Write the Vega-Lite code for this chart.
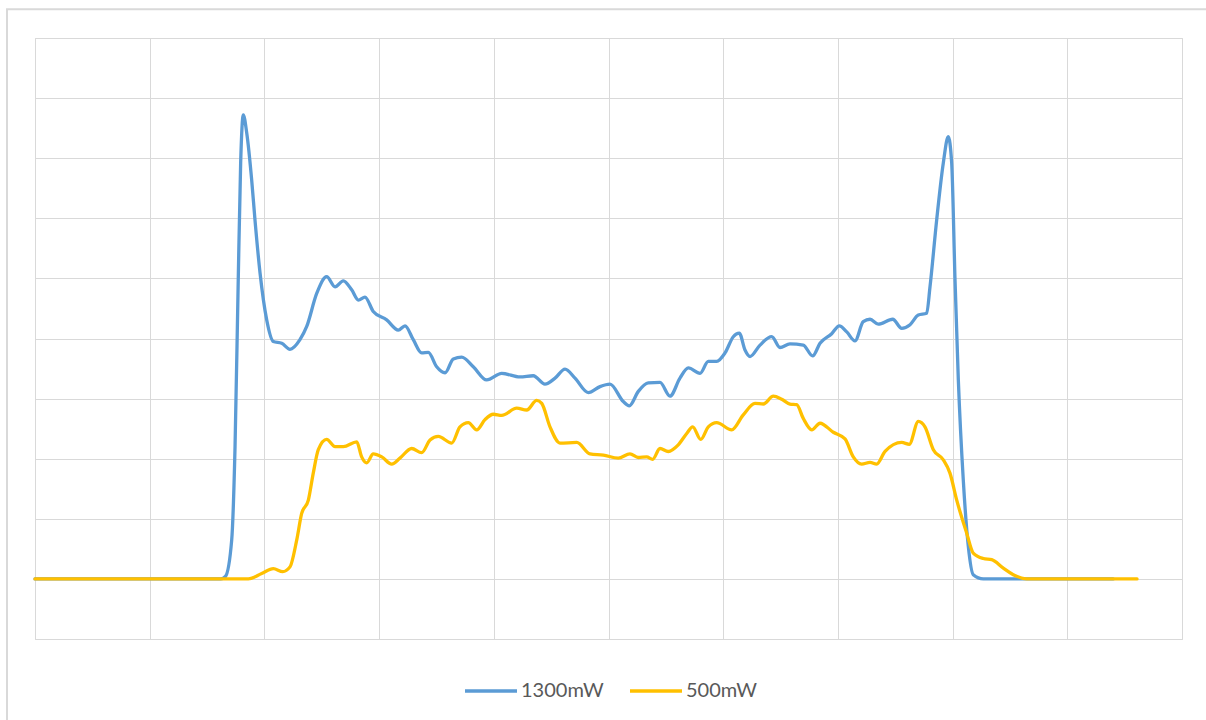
{
  "$schema": "https://vega.github.io/schema/vega-lite/v6.json",
  "width": 1147,
  "height": 601,
  "autosize": "none",
  "padding": {"left": 35, "top": 38, "right": 24, "bottom": 81},
  "background": "white",
  "config": {
    "view": {"stroke": "#D9D9D9", "strokeWidth": 1},
    "font": "Lato"
  },
  "datasets": {
    "profile": [
      {"series": "1300mW", "x": 0, "y": 0},
      {"series": "1300mW", "x": 0.83, "y": 0},
      {"series": "1300mW", "x": 1.62, "y": 0},
      {"series": "1300mW", "x": 1.66, "y": 0.04},
      {"series": "1300mW", "x": 1.715, "y": 0.65},
      {"series": "1300mW", "x": 1.744, "y": 2.2},
      {"series": "1300mW", "x": 1.772, "y": 4.98},
      {"series": "1300mW", "x": 1.793, "y": 6.92},
      {"series": "1300mW", "x": 1.816, "y": 7.72},
      {"series": "1300mW", "x": 1.846, "y": 7.42},
      {"series": "1300mW", "x": 1.889, "y": 6.64},
      {"series": "1300mW", "x": 1.918, "y": 5.97},
      {"series": "1300mW", "x": 1.962, "y": 5.09},
      {"series": "1300mW", "x": 2.02, "y": 4.31},
      {"series": "1300mW", "x": 2.078, "y": 3.95},
      {"series": "1300mW", "x": 2.151, "y": 3.92},
      {"series": "1300mW", "x": 2.223, "y": 3.82},
      {"series": "1300mW", "x": 2.31, "y": 3.98},
      {"series": "1300mW", "x": 2.369, "y": 4.2},
      {"series": "1300mW", "x": 2.456, "y": 4.75},
      {"series": "1300mW", "x": 2.543, "y": 5.03},
      {"series": "1300mW", "x": 2.616, "y": 4.86},
      {"series": "1300mW", "x": 2.688, "y": 4.96},
      {"series": "1300mW", "x": 2.761, "y": 4.81},
      {"series": "1300mW", "x": 2.819, "y": 4.64},
      {"series": "1300mW", "x": 2.877, "y": 4.69},
      {"series": "1300mW", "x": 2.949, "y": 4.45},
      {"series": "1300mW", "x": 3.066, "y": 4.31},
      {"series": "1300mW", "x": 3.167, "y": 4.14},
      {"series": "1300mW", "x": 3.226, "y": 4.21},
      {"series": "1300mW", "x": 3.298, "y": 3.98},
      {"series": "1300mW", "x": 3.371, "y": 3.76},
      {"series": "1300mW", "x": 3.429, "y": 3.77},
      {"series": "1300mW", "x": 3.502, "y": 3.53},
      {"series": "1300mW", "x": 3.575, "y": 3.43},
      {"series": "1300mW", "x": 3.647, "y": 3.66},
      {"series": "1300mW", "x": 3.72, "y": 3.69},
      {"series": "1300mW", "x": 3.821, "y": 3.53},
      {"series": "1300mW", "x": 3.938, "y": 3.31},
      {"series": "1300mW", "x": 4.069, "y": 3.42},
      {"series": "1300mW", "x": 4.228, "y": 3.36},
      {"series": "1300mW", "x": 4.344, "y": 3.38},
      {"series": "1300mW", "x": 4.446, "y": 3.24},
      {"series": "1300mW", "x": 4.534, "y": 3.34},
      {"series": "1300mW", "x": 4.621, "y": 3.49},
      {"series": "1300mW", "x": 4.708, "y": 3.34},
      {"series": "1300mW", "x": 4.824, "y": 3.1},
      {"series": "1300mW", "x": 4.926, "y": 3.2},
      {"series": "1300mW", "x": 5.013, "y": 3.24},
      {"series": "1300mW", "x": 5.129, "y": 2.95},
      {"series": "1300mW", "x": 5.181, "y": 2.88},
      {"series": "1300mW", "x": 5.26, "y": 3.12},
      {"series": "1300mW", "x": 5.347, "y": 3.26},
      {"series": "1300mW", "x": 5.449, "y": 3.27},
      {"series": "1300mW", "x": 5.536, "y": 3.04},
      {"series": "1300mW", "x": 5.623, "y": 3.34},
      {"series": "1300mW", "x": 5.696, "y": 3.51},
      {"series": "1300mW", "x": 5.798, "y": 3.42},
      {"series": "1300mW", "x": 5.87, "y": 3.62},
      {"series": "1300mW", "x": 5.943, "y": 3.62},
      {"series": "1300mW", "x": 6.016, "y": 3.76},
      {"series": "1300mW", "x": 6.088, "y": 4.03},
      {"series": "1300mW", "x": 6.14, "y": 4.09},
      {"series": "1300mW", "x": 6.19, "y": 3.81},
      {"series": "1300mW", "x": 6.234, "y": 3.7},
      {"series": "1300mW", "x": 6.321, "y": 3.89},
      {"series": "1300mW", "x": 6.423, "y": 4.03},
      {"series": "1300mW", "x": 6.495, "y": 3.85},
      {"series": "1300mW", "x": 6.582, "y": 3.91},
      {"series": "1300mW", "x": 6.698, "y": 3.89},
      {"series": "1300mW", "x": 6.78, "y": 3.71},
      {"series": "1300mW", "x": 6.844, "y": 3.92},
      {"series": "1300mW", "x": 6.946, "y": 4.08},
      {"series": "1300mW", "x": 7.012, "y": 4.21},
      {"series": "1300mW", "x": 7.077, "y": 4.11},
      {"series": "1300mW", "x": 7.149, "y": 3.96},
      {"series": "1300mW", "x": 7.221, "y": 4.28},
      {"series": "1300mW", "x": 7.28, "y": 4.32},
      {"series": "1300mW", "x": 7.352, "y": 4.24},
      {"series": "1300mW", "x": 7.478, "y": 4.32},
      {"series": "1300mW", "x": 7.556, "y": 4.17},
      {"series": "1300mW", "x": 7.629, "y": 4.23},
      {"series": "1300mW", "x": 7.701, "y": 4.39},
      {"series": "1300mW", "x": 7.774, "y": 4.42},
      {"series": "1300mW", "x": 7.803, "y": 4.86},
      {"series": "1300mW", "x": 7.861, "y": 5.97},
      {"series": "1300mW", "x": 7.919, "y": 6.92},
      {"series": "1300mW", "x": 7.962, "y": 7.36},
      {"series": "1300mW", "x": 7.992, "y": 6.92},
      {"series": "1300mW", "x": 8.021, "y": 4.98},
      {"series": "1300mW", "x": 8.05, "y": 3.31},
      {"series": "1300mW", "x": 8.093, "y": 1.65},
      {"series": "1300mW", "x": 8.137, "y": 0.54},
      {"series": "1300mW", "x": 8.18, "y": 0.07},
      {"series": "1300mW", "x": 8.268, "y": 0},
      {"series": "1300mW", "x": 8.85, "y": 0},
      {"series": "1300mW", "x": 9.4, "y": 0},
      {"series": "500mW", "x": 0, "y": 0},
      {"series": "500mW", "x": 0.83, "y": 0},
      {"series": "500mW", "x": 1.86, "y": 0},
      {"series": "500mW", "x": 1.976, "y": 0.09},
      {"series": "500mW", "x": 2.078, "y": 0.17},
      {"series": "500mW", "x": 2.16, "y": 0.12},
      {"series": "500mW", "x": 2.223, "y": 0.2},
      {"series": "500mW", "x": 2.282, "y": 0.65},
      {"series": "500mW", "x": 2.325, "y": 1.09},
      {"series": "500mW", "x": 2.383, "y": 1.31},
      {"series": "500mW", "x": 2.426, "y": 1.76},
      {"series": "500mW", "x": 2.47, "y": 2.15},
      {"series": "500mW", "x": 2.543, "y": 2.32},
      {"series": "500mW", "x": 2.616, "y": 2.2},
      {"series": "500mW", "x": 2.688, "y": 2.2},
      {"series": "500mW", "x": 2.805, "y": 2.28},
      {"series": "500mW", "x": 2.848, "y": 2.03},
      {"series": "500mW", "x": 2.892, "y": 1.93},
      {"series": "500mW", "x": 2.949, "y": 2.08},
      {"series": "500mW", "x": 3.023, "y": 2.03},
      {"series": "500mW", "x": 3.11, "y": 1.91},
      {"series": "500mW", "x": 3.182, "y": 2.01},
      {"series": "500mW", "x": 3.284, "y": 2.17},
      {"series": "500mW", "x": 3.371, "y": 2.1},
      {"series": "500mW", "x": 3.444, "y": 2.31},
      {"series": "500mW", "x": 3.516, "y": 2.37},
      {"series": "500mW", "x": 3.633, "y": 2.26},
      {"series": "500mW", "x": 3.705, "y": 2.53},
      {"series": "500mW", "x": 3.778, "y": 2.6},
      {"series": "500mW", "x": 3.851, "y": 2.48},
      {"series": "500mW", "x": 3.923, "y": 2.65},
      {"series": "500mW", "x": 3.996, "y": 2.74},
      {"series": "500mW", "x": 4.069, "y": 2.72},
      {"series": "500mW", "x": 4.2, "y": 2.84},
      {"series": "500mW", "x": 4.287, "y": 2.81},
      {"series": "500mW", "x": 4.374, "y": 2.97},
      {"series": "500mW", "x": 4.418, "y": 2.92},
      {"series": "500mW", "x": 4.49, "y": 2.53},
      {"series": "500mW", "x": 4.577, "y": 2.26},
      {"series": "500mW", "x": 4.723, "y": 2.27},
      {"series": "500mW", "x": 4.839, "y": 2.08},
      {"series": "500mW", "x": 4.955, "y": 2.06},
      {"series": "500mW", "x": 5.085, "y": 2.01},
      {"series": "500mW", "x": 5.187, "y": 2.08},
      {"series": "500mW", "x": 5.26, "y": 2.02},
      {"series": "500mW", "x": 5.333, "y": 2.03},
      {"series": "500mW", "x": 5.385, "y": 1.99},
      {"series": "500mW", "x": 5.449, "y": 2.17},
      {"series": "500mW", "x": 5.521, "y": 2.12},
      {"series": "500mW", "x": 5.608, "y": 2.23},
      {"series": "500mW", "x": 5.682, "y": 2.42},
      {"series": "500mW", "x": 5.734, "y": 2.53},
      {"series": "500mW", "x": 5.804, "y": 2.32},
      {"series": "500mW", "x": 5.87, "y": 2.53},
      {"series": "500mW", "x": 5.943, "y": 2.6},
      {"series": "500mW", "x": 6.074, "y": 2.48},
      {"series": "500mW", "x": 6.175, "y": 2.73},
      {"series": "500mW", "x": 6.277, "y": 2.92},
      {"series": "500mW", "x": 6.35, "y": 2.91},
      {"series": "500mW", "x": 6.437, "y": 3.04},
      {"series": "500mW", "x": 6.51, "y": 2.99},
      {"series": "500mW", "x": 6.582, "y": 2.91},
      {"series": "500mW", "x": 6.641, "y": 2.9},
      {"series": "500mW", "x": 6.698, "y": 2.67},
      {"series": "500mW", "x": 6.772, "y": 2.48},
      {"series": "500mW", "x": 6.844, "y": 2.59},
      {"series": "500mW", "x": 6.96, "y": 2.44},
      {"series": "500mW", "x": 7.062, "y": 2.33},
      {"series": "500mW", "x": 7.134, "y": 2.03},
      {"series": "500mW", "x": 7.207, "y": 1.91},
      {"series": "500mW", "x": 7.28, "y": 1.94},
      {"series": "500mW", "x": 7.338, "y": 1.91},
      {"series": "500mW", "x": 7.411, "y": 2.12},
      {"series": "500mW", "x": 7.556, "y": 2.27},
      {"series": "500mW", "x": 7.622, "y": 2.24},
      {"series": "500mW", "x": 7.701, "y": 2.62},
      {"series": "500mW", "x": 7.759, "y": 2.53},
      {"series": "500mW", "x": 7.832, "y": 2.15},
      {"series": "500mW", "x": 7.919, "y": 1.98},
      {"series": "500mW", "x": 7.977, "y": 1.76},
      {"series": "500mW", "x": 8.036, "y": 1.31},
      {"series": "500mW", "x": 8.123, "y": 0.76},
      {"series": "500mW", "x": 8.18, "y": 0.43},
      {"series": "500mW", "x": 8.268, "y": 0.34},
      {"series": "500mW", "x": 8.341, "y": 0.32},
      {"series": "500mW", "x": 8.442, "y": 0.18},
      {"series": "500mW", "x": 8.529, "y": 0.07},
      {"series": "500mW", "x": 8.646, "y": 0},
      {"series": "500mW", "x": 9.0, "y": 0},
      {"series": "500mW", "x": 9.608, "y": 0}
    ]
  },
  "layer": [
    {
      "data": {"values": [{}]},
      "mark": {"type": "rect", "filled": false, "stroke": "#D9D9D9", "strokeWidth": 2, "clip": false},
      "encoding": {
        "x": {"datum": -0.244, "type": "quantitative", "scale": {"domain": [0, 10]}},
        "x2": {"datum": 10.4},
        "y": {"datum": 9.48, "type": "quantitative", "scale": {"domain": [-1, 9]}},
        "y2": {"datum": -2.8}
      }
    },
    {
      "data": {"name": "profile"},
      "mark": {"type": "line", "interpolate": "monotone", "strokeWidth": 3.3, "strokeCap": "round", "strokeJoin": "round"},
      "encoding": {
        "x": {
          "field": "x",
          "type": "quantitative",
          "scale": {"domain": [0, 10], "nice": false, "zero": false},
          "axis": {
            "values": [0, 1, 2, 3, 4, 5, 6, 7, 8, 9, 10],
            "labels": false,
            "ticks": false,
            "domain": false,
            "grid": true,
            "gridColor": "#D9D9D9",
            "gridWidth": 1,
            "title": null
          }
        },
        "y": {
          "field": "y",
          "type": "quantitative",
          "scale": {"domain": [-1, 9], "nice": false, "zero": false},
          "axis": {
            "values": [-1, 0, 1, 2, 3, 4, 5, 6, 7, 8, 9],
            "labels": false,
            "ticks": false,
            "domain": false,
            "grid": true,
            "gridColor": "#D9D9D9",
            "gridWidth": 1,
            "title": null
          }
        },
        "color": {
          "field": "series",
          "type": "nominal",
          "scale": {"domain": ["1300mW", "500mW"], "range": ["#5B9BD5", "#FFC000"]},
          "legend": {
            "title": null,
            "orient": "none",
            "direction": "horizontal",
            "legendX": 428,
            "legendY": 625,
            "symbolType": "stroke",
            "symbolSize": 2704,
            "symbolStrokeWidth": 3.3,
            "labelFont": "Lato",
            "labelFontSize": 20,
            "labelColor": "#595959",
            "labelOffset": 2,
            "columnPadding": 19
          }
        }
      }
    }
  ]
}
